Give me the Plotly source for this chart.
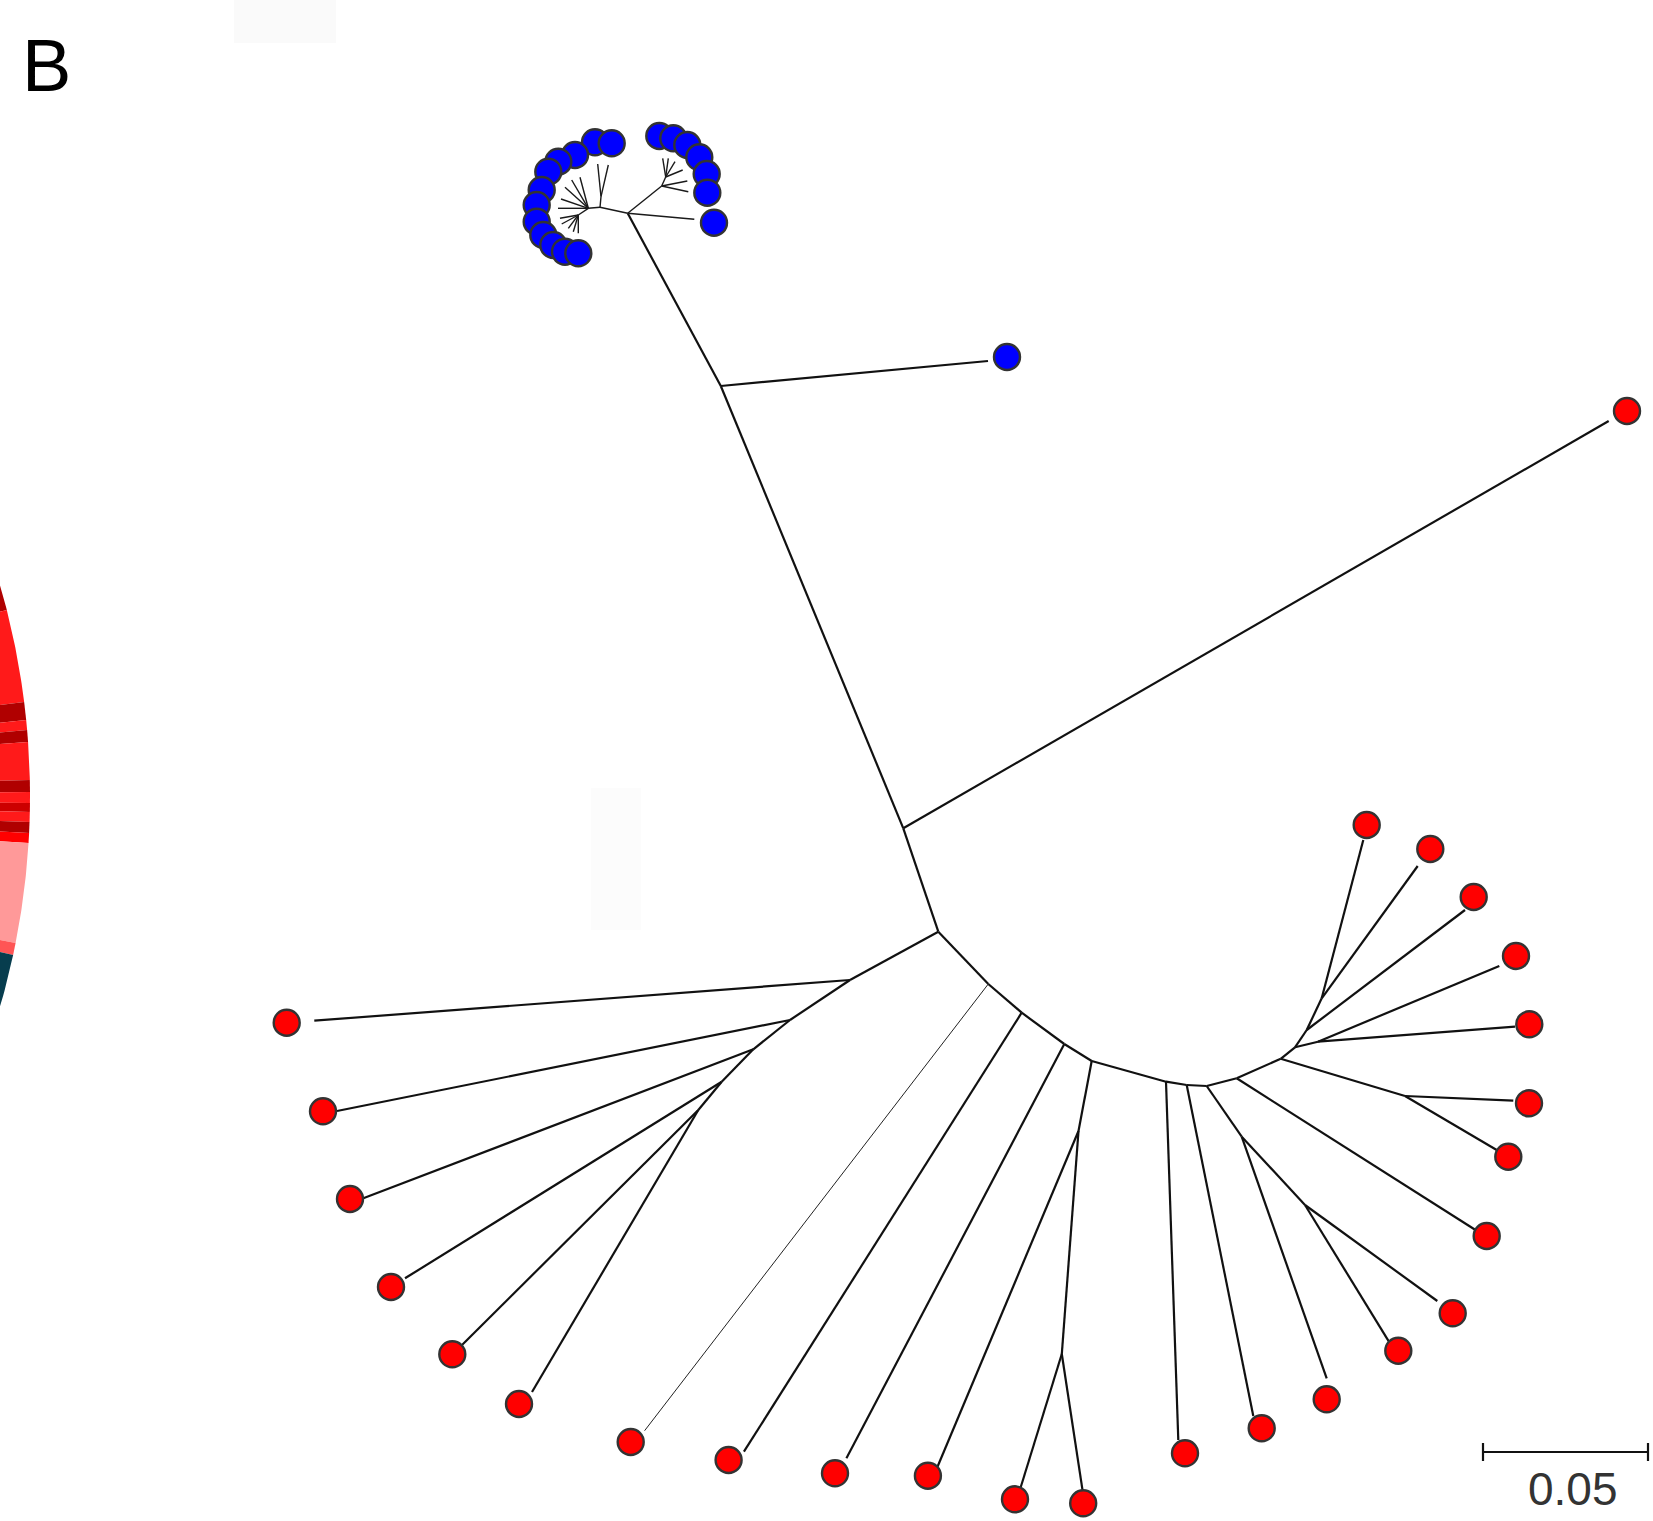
import numpy as np
import plotly.graph_objects as go

# ---------------- tree layout (layout units; 0.05 substitutions per 165 units) ----------------
int_names  = ["M", "J1", "J2", "J3", "A1", "A2", "A3", "A4", "A5",
              "K1", "K2", "K3", "K4", "Bm", "Bb", "K5", "K6", "K7", "K8", "K10",
              "K9", "K11", "K12", "Jc", "Jd", "Jb", "Ja",
              "R1", "R2", "L", "LA", "LB", "LC"]
int_x      = [627.7, 720.8, 903.3, 938.3, 850.0, 790.0, 753.3, 721.7, 698.3,
              988.3, 1021.7, 1064.3, 1091.7, 1078.5, 1061.8, 1166.0, 1186.7, 1206.7, 1241.7, 1305.0,
              1236.7, 1280.7, 1405.0, 1295.0, 1318.0, 1306.7, 1321.7,
              661.7, 665.7, 600.0, 601.0, 588.3, 578.3]
int_y      = [213.3, 386.0, 828.3, 931.7, 980.0, 1020.0, 1049.3, 1081.7, 1110.0,
              984.0, 1012.7, 1044.0, 1061.0, 1131.0, 1354.0, 1081.7, 1085.0, 1086.0, 1136.7, 1205.0,
              1078.3, 1058.8, 1096.0, 1047.3, 1041.7, 1030.0, 998.3,
              186.0, 177.0, 207.3, 196.7, 208.3, 215.0]
int_parent = [None, "M", "J1", "J2", "J3", "A1", "A2", "A3", "A4",
              "J3", "K1", "K2", "K3", "K4", "Bm", "K4", "K5", "K6", "K7", "K8",
              "K7", "K9", "K11", "K11", "Jc", "Jc", "Jb",
              "M", "R1", "M", "L", "L", "LB"]

# leaves: end of branch (tip) and symbol position
leaf_parent = ["LA", "LA", "LB", "LB", "LB", "LB", "LB", "LC", "LC", "LC", "LC", "LC",
               "R2", "R2", "R2", "R2", "R1", "R1", "M", "J1",
               "J2", "A1", "A2", "A3", "A4", "A5", "A5", "K1", "K2", "K3", "Bm", "Bb", "Bb",
               "K5", "K6", "K8", "K10", "K10", "K9", "K12", "K12", "Jd", "Jd", "Jb", "Ja", "Ja"]
leaf_tip_x = [597.7, 608.3, 580.0, 571.7, 565.0, 561.0, 558.0, 560.0, 561.7, 568.3, 573.3, 578.3,
              662.7, 668.3, 675.0, 682.7, 687.3, 688.3, 694.3, 988.0,
              1608.7, 314.3, 337.0, 363.3, 405.0, 462.0, 532.0, 644.6, 743.9, 846.4, 937.5, 1020.7, 1082.9,
              1178.3, 1253.3, 1326.7, 1390.0, 1437.3, 1478.3, 1513.3, 1496.7, 1515.0, 1499.3, 1465.0, 1363.3, 1417.7]
leaf_tip_y = [164.0, 165.0, 177.3, 180.0, 187.3, 199.0, 208.3, 218.3, 224.0, 228.3, 231.7, 233.3,
              158.3, 158.3, 161.7, 170.0, 181.0, 191.7, 219.3, 361.0,
              421.0, 1020.7, 1111.0, 1198.3, 1278.3, 1345.0, 1392.0, 1430.7, 1451.7, 1458.3, 1466.7, 1487.3, 1492.7,
              1440.0, 1416.0, 1378.3, 1343.3, 1301.0, 1231.7, 1100.7, 1150.0, 1026.7, 966.0, 910.0, 840.0, 866.0]
leaf_x     = [595.0, 611.7, 575.0, 558.3, 548.3, 541.7, 536.7, 536.7, 543.3, 553.3, 565.0, 578.3,
              659.3, 673.3, 687.3, 699.3, 706.7, 707.3, 714.0, 1007.0,
              1627.0, 286.7, 323.0, 350.0, 391.0, 452.3, 519.0, 630.7, 728.6, 835.0, 927.9, 1015.0, 1083.2,
              1185.0, 1261.7, 1326.7, 1398.3, 1452.7, 1486.7, 1529.0, 1508.3, 1529.3, 1516.0, 1473.7, 1366.7, 1430.3]
leaf_y     = [142.3, 143.3, 155.0, 161.7, 171.7, 190.0, 205.0, 221.7, 235.0, 245.0, 251.7, 253.3,
              136.0, 138.3, 145.0, 157.3, 174.0, 192.7, 222.7, 357.0,
              411.0, 1022.7, 1111.3, 1199.0, 1287.0, 1354.3, 1404.0, 1442.0, 1460.0, 1473.3, 1475.7, 1499.3, 1503.3,
              1453.3, 1428.3, 1399.3, 1350.7, 1313.3, 1236.0, 1103.3, 1156.7, 1024.3, 956.0, 897.0, 825.0, 849.0]
leaf_group = ["Group 1"] * 20 + ["Group 2"] * 26

group_colors = {"Group 1": "#0000ff", "Group 2": "#ff0000"}

# scale bar
scale_value = 0.05
units_per_substitution = 3300.0
scale_bar_x0 = 1483.0
scale_bar_y = 1452.0

# partial ring of neighbouring panel (segment boundaries in degrees, colours)
ring_bounds = [-19.77, -14.22, -7.13, -5.76, -5.00, -4.09, -1.21, -0.30, 0.53, 1.21, 1.97, 2.80, 3.56, 11.20, 12.12, 23.67]
ring_colors = ["#b00000", "#ff1a1a", "#b00000", "#ff1a1a", "#b00000", "#ff1a1a", "#b00000", "#ff1a1a",
               "#cc0000", "#ff1a1a", "#b00000", "#ff0000", "#ff9999", "#ff5555", "#073d4e"]
ring_center = (-727.0, 796.0)
ring_r_out, ring_r_in = 757.0, 690.0

# ---------------- build figure ----------------
W, H = 1653, 1521
pos = {n: (x, y) for n, x, y in zip(int_names, int_x, int_y)}
blue_nodes = {"M", "R1", "R2", "L", "LA", "LB", "LC"}

fig = go.Figure()

# ring wedges
cx, cy = ring_center
for a0, a1, col in zip(ring_bounds[:-1], ring_bounds[1:], ring_colors):
    t = np.radians(np.linspace(a0, a1, 30))
    xs = np.concatenate([cx + ring_r_out * np.cos(t), cx + ring_r_in * np.cos(t[::-1])])
    ys = np.concatenate([cy + ring_r_out * np.sin(t), cy + ring_r_in * np.sin(t[::-1])])
    fig.add_trace(go.Scatter(x=xs, y=ys, fill="toself", fillcolor=col, mode="lines",
                             line=dict(width=0, color=col), hoverinfo="skip", showlegend=False))

# edges
segs = {"main": ([], []), "fine": ([], []), "thin": ([], [])}
def add(kind, p, q):
    segs[kind][0].extend([p[0], q[0], None])
    segs[kind][1].extend([p[1], q[1], None])

for n, par in zip(int_names, int_parent):
    if par is None:
        continue
    kind = "fine" if (n in blue_nodes and par in blue_nodes) else "main"
    add(kind, pos[par], pos[n])
for i, par in enumerate(leaf_parent):
    kind = "fine" if par in blue_nodes else "main"
    if par == "K1":
        kind = "thin"
    add(kind, pos[par], (leaf_tip_x[i], leaf_tip_y[i]))

widths = {"main": 2.2, "fine": 1.4, "thin": 1.0}
colors = {"main": "#111111", "fine": "#1a1a1a", "thin": "#222222"}
for k in ["main", "fine", "thin"]:
    fig.add_trace(go.Scatter(x=segs[k][0], y=segs[k][1], mode="lines",
                             line=dict(color=colors[k], width=widths[k]),
                             hoverinfo="skip", showlegend=False))

# leaf symbols
for g, col in group_colors.items():
    idx = [i for i, gg in enumerate(leaf_group) if gg == g]
    fig.add_trace(go.Scatter(x=[leaf_x[i] for i in idx], y=[leaf_y[i] for i in idx], mode="markers",
                             marker=dict(size=26, color=col, line=dict(color="#333333", width=2.4)),
                             name=g, showlegend=False))

# scale bar
bar_len = scale_value * units_per_substitution
fig.add_trace(go.Scatter(x=[scale_bar_x0, scale_bar_x0 + bar_len, None, scale_bar_x0, scale_bar_x0, None,
                            scale_bar_x0 + bar_len, scale_bar_x0 + bar_len],
                         y=[scale_bar_y, scale_bar_y, None, scale_bar_y - 9, scale_bar_y + 9, None,
                            scale_bar_y - 9, scale_bar_y + 9],
                         mode="lines", line=dict(color="#111111", width=2.2), hoverinfo="skip", showlegend=False))
fig.add_annotation(x=scale_bar_x0 + bar_len / 2 + 7, y=1489, text=f"{scale_value:.2f}", showarrow=False,
                   xanchor="center", yanchor="middle",
                   font=dict(family="Liberation Sans, Arial, sans-serif", size=46, color="#333333"))

# panel letter
fig.add_annotation(x=20, y=65, text="B", showarrow=False, xanchor="left", yanchor="middle",
                   font=dict(family="Liberation Sans, Arial, sans-serif", size=74, color="#000000"))

# faint background patches
fig.add_shape(type="rect", x0=234, x1=336, y0=0, y1=43, fillcolor="#fafafa", line=dict(width=0), layer="below")
fig.add_shape(type="rect", x0=591, x1=641, y0=788, y1=930, fillcolor="#fcfcfc", line=dict(width=0), layer="below")

fig.update_layout(width=W, height=H, margin=dict(l=0, r=0, t=0, b=0),
                  paper_bgcolor="white", plot_bgcolor="white", showlegend=False,
                  xaxis=dict(range=[0, W], visible=False, fixedrange=True),
                  yaxis=dict(range=[H, 0], visible=False, fixedrange=True))
fig.write_html("out.html", config={"displayModeBar": False},
               post_script="document.body.style.margin='0px';document.body.style.overflow='hidden';")
